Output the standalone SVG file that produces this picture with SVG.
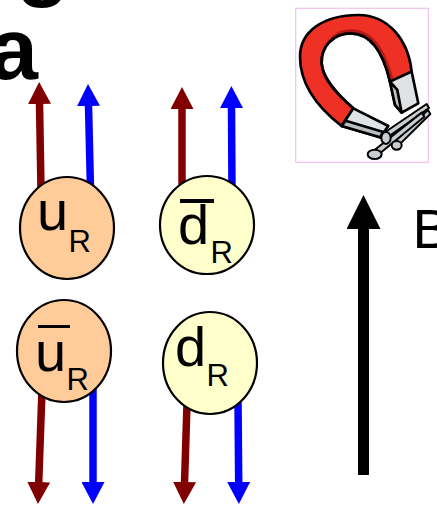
<svg xmlns="http://www.w3.org/2000/svg" width="437" height="505" viewBox="0 0 437 505">
  <style>
    .big { font-family: "Liberation Sans", Arial, sans-serif; font-weight: bold; font-size: 88px; fill: #000; }
    .q { font-family: "Liberation Sans", Arial, sans-serif; font-size: 56px; fill: #000; }
    .sub { font-family: "Liberation Sans", Arial, sans-serif; font-size: 31px; fill: #000; }
    .up { fill: #ffcc99; stroke: #000; stroke-width: 2.2; }
    .down { fill: #ffffcc; stroke: #000; stroke-width: 2.2; }
    .red { stroke: #800000; stroke-width: 7.5; fill: none; }
    .blue { stroke: #0000ff; stroke-width: 7.5; fill: none; }
    .bar { fill: #000; }
    .ol { stroke: #000; stroke-width: 8; stroke-linejoin: round; }
    .steel { fill: #dfe3e6; }
    .shade { fill: #b9bfc3; }
    .nail { fill: #c9cdd0; stroke: #000; stroke-width: 6; stroke-linejoin: round; }
  </style>
  <defs>
    <marker id="headRed" markerUnits="userSpaceOnUse" viewBox="0 0 22 23" refX="1" refY="11.5" markerWidth="22" markerHeight="23" orient="auto">
      <path d="M0,0 L22,11.5 L0,23 Z" fill="#800000"/>
    </marker>
    <marker id="headBlue" markerUnits="userSpaceOnUse" viewBox="0 0 22 23" refX="1" refY="11.5" markerWidth="22" markerHeight="23" orient="auto">
      <path d="M0,0 L22,11.5 L0,23 Z" fill="#0000ff"/>
    </marker>
    <marker id="headBlack" markerUnits="userSpaceOnUse" viewBox="0 0 34 34" refX="1" refY="17" markerWidth="34" markerHeight="34" orient="auto">
      <path d="M0,0 L34,17 L0,34 Z" fill="#000"/>
    </marker>
  </defs>

  <!-- heading fragments -->
  <text class="big" x="16" y="-10">g</text>
  <text class="big" x="-11" y="79">a</text>

  <!-- spin / momentum arrows -->
  <g id="connectors">
    <line class="red" x1="41" y1="190" x2="39.5" y2="103" marker-end="url(#headRed)"/>
    <line class="blue" x1="90.5" y1="190" x2="88.5" y2="105" marker-end="url(#headBlue)"/>
    <line class="red" x1="182" y1="192" x2="182" y2="108" marker-end="url(#headRed)"/>
    <line class="blue" x1="232" y1="192" x2="231.5" y2="107" marker-end="url(#headBlue)"/>
    <line class="red" x1="42" y1="390" x2="38.7" y2="483" marker-end="url(#headRed)"/>
    <line class="blue" x1="93" y1="388" x2="93" y2="483" marker-end="url(#headBlue)"/>
    <line class="red" x1="187" y1="404" x2="184.5" y2="483" marker-end="url(#headRed)"/>
    <line class="blue" x1="238" y1="400" x2="238.7" y2="483" marker-end="url(#headBlue)"/>
    <line stroke="#000" stroke-width="11" x1="363.5" y1="475" x2="363.5" y2="228" marker-end="url(#headBlack)"/>
  </g>

  <!-- quarks -->
  <g id="uR">
    <ellipse class="up" cx="67" cy="228" rx="47" ry="51"/>
    <text class="q" x="37" y="230">u</text>
    <text class="sub" x="68.5" y="252">R</text>
  </g>
  <g id="dbarR">
    <ellipse class="down" cx="207" cy="225" rx="47" ry="49"/>
    <rect class="bar" x="180" y="199" width="34" height="4"/>
    <text class="q" x="178" y="244">d</text>
    <text class="sub" x="210.5" y="263">R</text>
  </g>
  <g id="ubarR">
    <ellipse class="up" cx="64" cy="351" rx="47" ry="51"/>
    <rect class="bar" x="38" y="325" width="32" height="3"/>
    <text class="q" x="35" y="371">u</text>
    <text class="sub" x="66.5" y="390">R</text>
  </g>
  <g id="dR">
    <ellipse class="down" cx="210" cy="363" rx="47" ry="51"/>
    <text class="q" x="175" y="366">d</text>
    <text class="sub" x="206.5" y="386">R</text>
  </g>

  <!-- field label -->
  <g id="fieldB">
    <text class="q" x="412.6" y="248">B</text>
  </g>

  <!-- horseshoe magnet with nails -->
  <g id="magnet" transform="translate(280,0) scale(0.3333)">
    <rect x="47" y="25" width="398" height="462" fill="#fff" stroke="#f3c6f3" stroke-width="4"/>
    <!-- nail shanks behind the poles -->
    <path class="nail" d="M298,408 L440,312 L447,324 L310,421 Z"/>
    <path class="nail" d="M338,430 L444,330 L451,342 L349,443 Z"/>
    <path class="nail" d="M280,453 L425,338 L433,350 L291,467 Z"/>
    <!-- red body -->
    <path class="ol" fill="#ee3124" d="M185,378 C110,320 60,250 60,170 C60,95 130,45 235,45 C325,45 385,120 395,215 L330,245 C315,180 285,100 212,100 C160,100 122,140 125,190 C128,240 180,290 220,325 Z"/>
    <path fill="#b31b16" d="M128,215 C112,150 150,88 212,88 C292,88 322,170 342,240 L330,245 C315,180 285,100 212,100 C160,100 122,140 125,190 Z"/>
    <path fill="none" stroke="#000" stroke-width="8" stroke-linejoin="round" d="M330,245 C315,180 285,100 212,100 C160,100 122,140 125,190 C128,240 180,290 220,325"/>
    <!-- steel pole tips -->
    <path class="ol steel" d="M330,245 L395,215 L415,310 L365,338 L345,315 Z"/>
    <path class="ol shade" stroke-width="5" d="M330,245 L345,315 L365,338 L352,270 Z"/>
    <path class="ol steel" d="M185,378 L220,325 L325,378 L300,412 Z"/>
    <path class="ol shade" stroke-width="5" d="M185,378 L300,412 L310,396 L197,362 Z"/>
    <!-- nail heads -->
    <ellipse class="nail" cx="318" cy="414" rx="14" ry="18"/>
    <ellipse class="nail" cx="350" cy="436" rx="15" ry="13"/>
    <ellipse class="nail" cx="284" cy="463" rx="21" ry="14"/>
  </g>
</svg>
